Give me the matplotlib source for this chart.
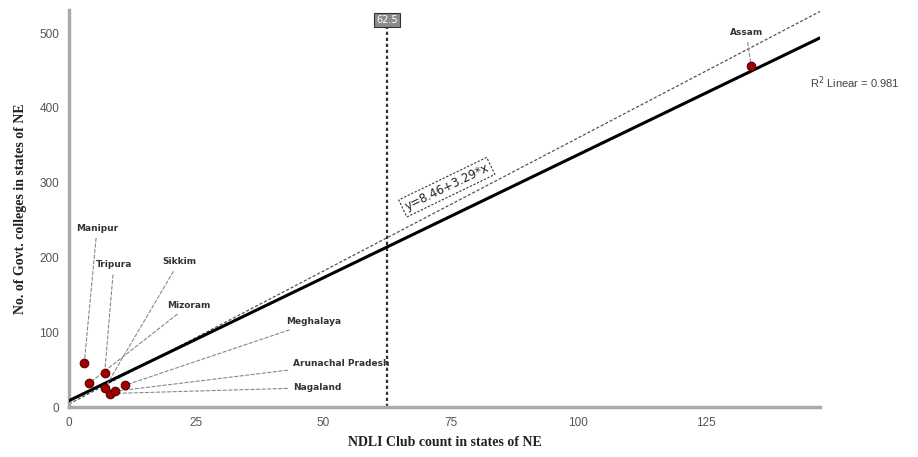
import matplotlib
matplotlib.use("Agg")
import matplotlib.pyplot as plt
import numpy as np

# Data
states = ["Manipur", "Tripura", "Mizoram", "Sikkim", "Nagaland", "Arunachal Pradesh", "Meghalaya", "Assam"]
ndli_clubs = [3, 7, 4, 7, 8, 9, 11, 134]
govt_colleges = [59, 45, 32, 25, 18, 21, 29, 456]

fit_intercept, fit_slope = 8.46, 3.29
dashed_intercept, dashed_slope = 4.0, 3.56
ref_x = 62.5
r2 = 0.981

x_ticks = [0, 25, 50, 75, 100, 125]
y_ticks = [0, 100, 200, 300, 400, 500]
x_max, y_max = 147.5, 531

fig = plt.figure(figsize=(9.18, 4.57), dpi=100)
ax = fig.add_axes([69/918, 1-407/457, (820-69)/918, (407-10)/457])
ax.set_xlim(0, x_max)
ax.set_ylim(0, y_max)

xs = np.array([0, x_max])
ax.plot(xs, dashed_intercept + dashed_slope*xs, ls=(0, (2.5, 1.5)), color="#555555", lw=0.9, zorder=2)
ax.plot(xs, fit_intercept + fit_slope*xs, color="black", lw=2.2, zorder=3)
ax.plot([ref_x, ref_x], [0, y_max*0.975], color="#333333", ls=(0, (1.5, 1.2)), lw=1.6, zorder=2)

ax.scatter(ndli_clubs, govt_colleges, s=38, color="#a00000", edgecolor="#5a0000", linewidth=0.8, zorder=5)

label_pos = {
    "Manipur": (5.5, 239, "center"),
    "Tripura": (8.8, 190, "center"),
    "Sikkim": (21.6, 194, "center"),
    "Mizoram": (23.5, 136, "center"),
    "Meghalaya": (48.0, 114, "center"),
    "Arunachal Pradesh": (44.0, 58, "left"),
    "Nagaland": (44.0, 26, "left"),
    "Assam": (133.0, 501, "center"),
}
for st, xv, yv in zip(states, ndli_clubs, govt_colleges):
    tx, ty, ha = label_pos[st]
    ax.annotate(st, xy=(xv, yv), xytext=(tx, ty), ha=ha, va="center",
                fontsize=6.5, fontweight="bold", color="#333333",
                arrowprops=dict(arrowstyle="-", ls=(0, (3, 2)), color="#888888", lw=0.8,
                                shrinkA=2, shrinkB=0), zorder=4)

# Equation label along the fit line
ax.text(74.2, 294, "y=8.46+3.29*x", rotation=25.8, ha="center", va="center",
        fontsize=8.5, color="#222222", family="Liberation Sans Narrow",
        bbox=dict(boxstyle="square,pad=0.25", fc="white", ec="#333333", ls=(0, (2, 1.5)), lw=0.8), zorder=6)

# Reference line label
ax.text(ref_x, 0.975, "62.5", transform=ax.get_xaxis_transform(), ha="center", va="center",
        fontsize=7, color="white",
        bbox=dict(boxstyle="square,pad=0.2", fc="#8a8a8a", ec="#333333", lw=0.8), zorder=7, clip_on=False)

fig.text(810/918, 1-83/457, "R$^2$ Linear = 0.981", fontsize=8, color="#444444", ha="left", va="center",
         family="Liberation Sans")

ax.set_xticks(x_ticks)
ax.set_yticks(y_ticks)
ax.tick_params(length=0, labelsize=8.5, labelcolor="#555555", pad=7)
for lab in ax.get_xticklabels() + ax.get_yticklabels():
    lab.set_family("Liberation Sans")

for s in ["top", "right"]:
    ax.spines[s].set_visible(False)
for s in ["left", "bottom"]:
    ax.spines[s].set_color("#aaaaaa")
    ax.spines[s].set_linewidth(2.5)

ax.set_xlabel("NDLI Club count in states of NE", fontsize=10, fontweight="bold",
              family="Liberation Serif", color="#222222", labelpad=5)
ax.set_ylabel("No. of Govt. colleges in states of NE", fontsize=10, fontweight="bold",
              family="Liberation Serif", color="#222222", labelpad=9)

fig.savefig("out.png", dpi=100)
